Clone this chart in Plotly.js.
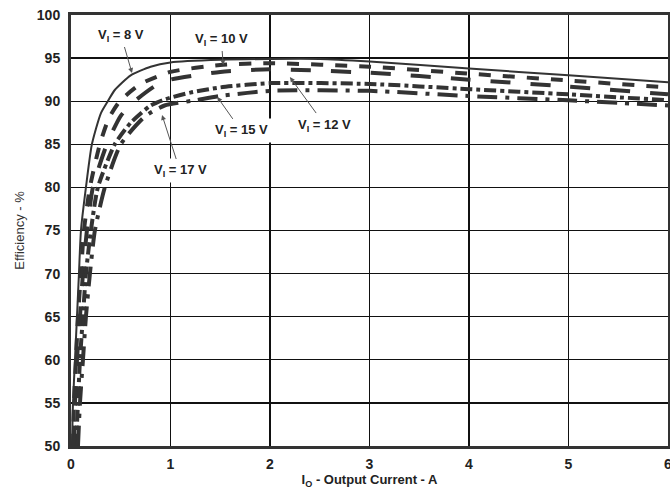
<!DOCTYPE html>
<html>
<head>
<meta charset="utf-8">
<script src="https://cdn.plot.ly/plotly-3.0.1.min.js"></script>
<style>html,body{margin:0;padding:0;background:#fff;}#chart{width:670px;height:492px;}</style>
</head>
<body>
<div id="chart"></div>
<script>
// Output current (A) and efficiency (%) for each input voltage
const cur8  = [0.01,0.02,0.04,0.06,0.08,0.10,0.15,0.21,0.30,0.37,0.44,0.60,0.80,1.0,1.5,2.0,2.5,3.0,4.0,5.0,6.0];
const eff8  = [50,55,60,65,70,75,80,85,88.6,90,91.3,93.0,94.0,94.5,94.8,94.9,94.9,94.6,93.8,93.0,92.2];
const cur10 = [0.02,0.03,0.05,0.07,0.10,0.13,0.19,0.29,0.38,0.49,0.70,1.0,1.5,2.0,3.0,4.0,5.0,6.0];
const eff10 = [50,55,60,65,70,75,80,85,88.0,90,92.0,93.4,94.2,94.4,94.0,93.2,92.4,91.6];
const cur12 = [0.03,0.04,0.06,0.09,0.12,0.16,0.22,0.36,0.50,0.64,0.85,1.0,1.5,2.0,3.0,4.0,5.0,6.0];
const eff12 = [50,55,60,65,70,75,80,85,88.3,90,91.8,92.5,93.4,93.7,93.3,92.5,91.7,90.8];
const cur15 = [0.05,0.07,0.09,0.12,0.15,0.20,0.27,0.44,0.60,0.80,0.94,1.2,1.5,2.0,3.0,4.0,5.0,6.0];
const eff15 = [50,55,60,65,70,75,80,85,87.5,89.5,90.2,91.0,91.6,92.1,92.0,91.4,90.8,90.1];
const cur17 = [0.07,0.09,0.12,0.15,0.19,0.24,0.34,0.50,0.74,0.94,1.25,1.5,2.0,3.0,4.0,5.0,6.0];
const eff17 = [50,55,60,65,70,75,80,85,88.2,89.5,90.1,90.6,91.2,91.2,90.6,90.1,89.5];

const xTicks = [0,1,2,3,4,5,6];
const yTicks = [50,55,60,65,70,75,80,85,90,95,100];

const lineColor = '#333333';
function tr(x, y, dash, w, name) {
  return {x: x, y: y, mode: 'lines', name: name, line: {color: lineColor, width: w, dash: dash, shape: 'spline', smoothing: 0.6}, hoverinfo: 'skip'};
}
const data = [
  tr(cur17, eff17, 'longdashdot', 4, '17 V'),
  tr(cur15, eff15, 'dashdot', 4, '15 V'),
  tr(cur12, eff12, 'longdash', 4, '12 V'),
  tr(cur10, eff10, 'dash', 4, '10 V'),
  tr(cur8, eff8, 'solid', 2, '8 V')
];

const fontTick = {family: 'Liberation Sans, Arial, sans-serif', size: 14, color: '#222'};
function ann(text, x, y, ax, ay, bg) {
  return {x: x, y: y, ax: ax, ay: ay, text: '<b>' + text + '</b>', showarrow: true,
    arrowhead: 2, arrowsize: 1, arrowwidth: 1, arrowcolor: '#555',
    font: {family: 'Liberation Sans, Arial, sans-serif', size: 13, color: '#222'},
    bgcolor: bg ? '#ffffff' : 'rgba(0,0,0,0)', borderpad: 3};
}
const layout = {
  width: 670, height: 492,
  margin: {l: 71, r: 2, t: 15, b: 46},
  paper_bgcolor: '#fff', plot_bgcolor: '#fff',
  showlegend: false,
  xaxis: {
    range: [0, 6], tickvals: xTicks, ticktext: xTicks.map(v => '<b>' + v + '</b>'),
    ticklabeloverflow: 'allow',
    showgrid: true, gridcolor: '#111', gridwidth: 1.3, zeroline: false,
    showline: true, linecolor: '#333', linewidth: 3, mirror: true,
    ticks: 'outside', ticklen: 3, tickcolor: 'rgba(0,0,0,0)',
    tickfont: fontTick,
    title: {text: '<b>I<sub>O</sub> - Output Current - A</b>', font: {family: 'Liberation Sans, Arial, sans-serif', size: 13, color: '#222'}, standoff: 4}
  },
  yaxis: {
    range: [50, 100], tickvals: yTicks, ticktext: yTicks.map(v => '<b>' + v + '</b>'),
    showgrid: true, gridcolor: '#111', gridwidth: 1.3, zeroline: false,
    showline: true, linecolor: '#333', linewidth: 3, mirror: true,
    ticks: 'outside', ticklen: 5, tickcolor: 'rgba(0,0,0,0)',
    tickfont: fontTick,
    title: {text: 'Efficiency - %', font: {family: 'Liberation Sans, Arial, sans-serif', size: 13, color: '#333'}, standoff: 10}
  },
  annotations: [
    ann('V<sub>I</sub> = 8 V', 0.613, 93.27, -11, -38, false),
    ann('V<sub>I</sub> = 10 V', 1.53, 94.2, -2, -26, false),
    ann('V<sub>I</sub> = 12 V', 2.20, 92.8, 35, 48, true),
    ann('V<sub>I</sub> = 15 V', 1.47, 90.5, 24, 34, true),
    ann('V<sub>I</sub> = 17 V', 0.915, 88.4, 18, 56, true)
  ]
};
Plotly.newPlot('chart', data, layout, {displayModeBar: false, staticPlot: true});
</script>
</body>
</html>
